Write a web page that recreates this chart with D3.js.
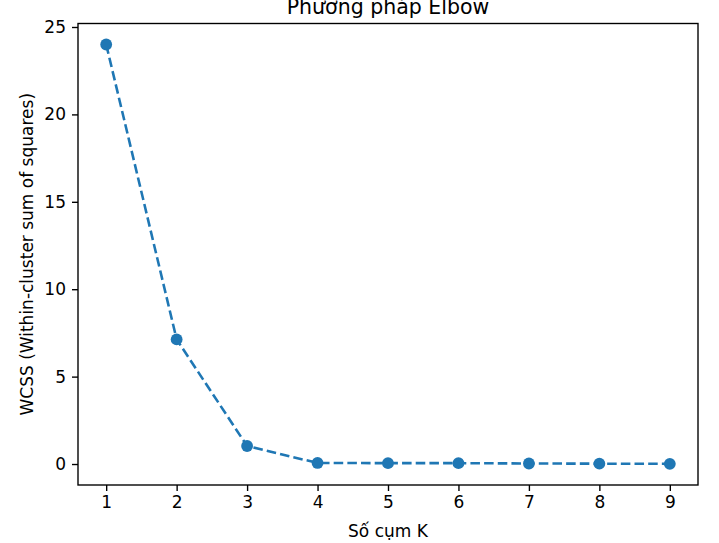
<!DOCTYPE html>
<html><head><meta charset="utf-8">
<script src="https://cdn.jsdelivr.net/npm/d3@7"></script>
<style>
html,body{margin:0;padding:0;background:#fff;}
text{font-family:"DejaVu Sans",sans-serif;fill:#000;}
</style></head>
<body>
<svg id="chart" width="719" height="543"></svg>
<script>
const kValues = [1, 2, 3, 4, 5, 6, 7, 8, 9];
const wcssValues = [24.0, 7.13, 1.03, 0.06, 0.05, 0.05, 0.03, 0.02, 0.01];
const xTicks = [1, 2, 3, 4, 5, 6, 7, 8, 9];
const yTicks = [0, 5, 10, 15, 20, 25];
const titleText = "Phương pháp Elbow";
const xLabelText = "Số cụm K";
const yLabelText = "WCSS (Within-cluster sum of squares)";

const W = 719, H = 543;
const m = {left: 78, right: 21, top: 23.5, bottom: 58};
const svg = d3.select("#chart");
const color = "#1f77b4";
const pt = 1.72;

const x = d3.scaleLinear().domain([0.6, 9.4]).range([m.left, W - m.right]);
const y = d3.scaleLinear().domain([-1.2, 25.2]).range([H - m.bottom, m.top]);

const data = kValues.map((k, i) => ({k, v: wcssValues[i]}));

// line
svg.append("path")
  .datum(data)
  .attr("fill", "none")
  .attr("stroke", color)
  .attr("stroke-width", 1.5 * pt)
  .attr("stroke-dasharray", `${3.7 * 1.5 * pt},${1.6 * 1.5 * pt}`)
  .attr("d", d3.line().x(d => x(d.k)).y(d => y(d.v)));

// markers
svg.append("g").selectAll("circle").data(data).join("circle")
  .attr("cx", d => x(d.k)).attr("cy", d => y(d.v))
  .attr("r", 5.9).attr("fill", color);

// axes
const xAxis = d3.axisBottom(x).tickValues(xTicks).tickFormat(d3.format("d")).tickSizeOuter(0).tickSize(6).tickPadding(4.5);
const yAxis = d3.axisLeft(y).tickValues(yTicks).tickFormat(d3.format("d")).tickSizeOuter(0).tickSize(6).tickPadding(6);

const gx = svg.append("g").attr("transform", `translate(0,${H - m.bottom})`).call(xAxis);
const gy = svg.append("g").attr("transform", `translate(${m.left},0)`).call(yAxis);
[gx, gy].forEach(g => {
  g.select(".domain").remove();
  g.selectAll(".tick line").attr("stroke", "#000").attr("stroke-width", 0.8 * pt);
  g.selectAll(".tick text").attr("font-family", "DejaVu Sans").attr("font-size", 17).attr("fill", "#000");
});

// frame
svg.append("rect")
  .attr("x", m.left).attr("y", m.top)
  .attr("width", W - m.left - m.right).attr("height", H - m.top - m.bottom)
  .attr("fill", "none").attr("stroke", "#000").attr("stroke-width", 0.8 * pt);

// title
svg.append("text").attr("x", (m.left + W - m.right) / 2).attr("y", 14)
  .attr("text-anchor", "middle").attr("font-size", 20.5).text(titleText);

// x label
svg.append("text").attr("x", (m.left + W - m.right) / 2).attr("y", 537)
  .attr("text-anchor", "middle").attr("font-size", 17).text(xLabelText);

// y label
svg.append("text")
  .attr("transform", `translate(33,${(m.top + H - m.bottom) / 2}) rotate(-90)`)
  .attr("text-anchor", "middle").attr("font-size", 17).text(yLabelText);
</script>
</body></html>
